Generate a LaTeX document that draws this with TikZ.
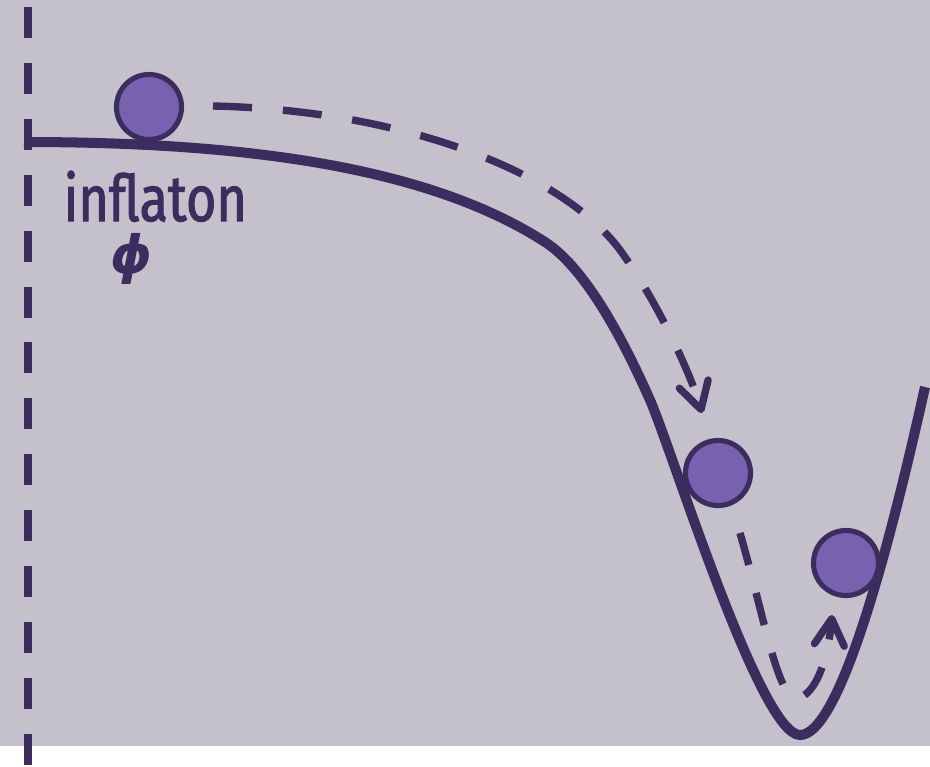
\documentclass[tikz,border=0pt]{standalone}
\usepackage{amsmath}
\usepackage{fontspec}
\usepackage{tikz}
\usetikzlibrary{arrows.meta}
\newfontfamily\labelfont[FakeStretch=0.81,FakeBold=1.6]{Fira Sans}
\newfontfamily\phifont{DejaVu Sans}
\definecolor{bg}{HTML}{C4C0CC}
\definecolor{ink}{HTML}{3B2E5F}
\definecolor{ballfill}{HTML}{7862AF}

\begin{document}
\begin{tikzpicture}[x=0.01cm,y=-0.01cm,
  ball/.style={circle,draw=ink,fill=ballfill,line width=1.45pt,minimum size=6.5mm,inner sep=0pt},
  roll/.style={draw=ink,line width=2.1pt,-{Straight Barb[length=7.5pt,width=8.5pt,round]}}]
\useasboundingbox (0,0) rectangle (930,766);
\fill[bg] (0,0) rectangle (930,746);

% field axis
\draw[ink,line width=2.28pt,dash pattern=on 8.8pt off 7.1pt] (28,7) -- (28,766);

% potential
\draw[ink,line width=2.85pt] (24,142) .. controls (250,142) and (430,168) .. (545,242)
  .. controls (590,271) and (630,355) .. (650,400)
  .. controls (672,450) and (760,735) .. (800,735)
  .. controls (835,735) and (880,590) .. (925,387);

\node[ball] (b1) at (149,107) {};
\node[ball] (b2) at (718,473) {};
\node[ball] (b3) at (846,563) {};

% rolling paths
\coordinate (s1) at (213,106);
\coordinate (e1) at (702,413);
\coordinate (s2) at (740,533);
\coordinate (e2) at (832,615);
\draw[roll,dash pattern=on 11.1pt off 8.8pt] (s1) .. controls (400,110) and (560,170) .. (620,250)
  .. controls (660,305) and (692,378) .. (e1);
\draw[roll,dash pattern=on 9.4pt off 8.25pt] (s2) .. controls (765,620) and (778,700) .. (797,698)
  .. controls (815,696) and (828,660) .. (e2);

\node[anchor=base west,inner sep=0pt,text depth=0pt,text=ink,font=\labelfont\fontsize{18.3pt}{20pt}\selectfont] (lbl) at (63,221) {inflaton};
\node[inner sep=0pt,text=ink,font=\phifont\bfseries\itshape\fontsize{15pt}{16pt}\selectfont] (phi) at (132,259) {ϕ};
\end{tikzpicture}
\end{document}
